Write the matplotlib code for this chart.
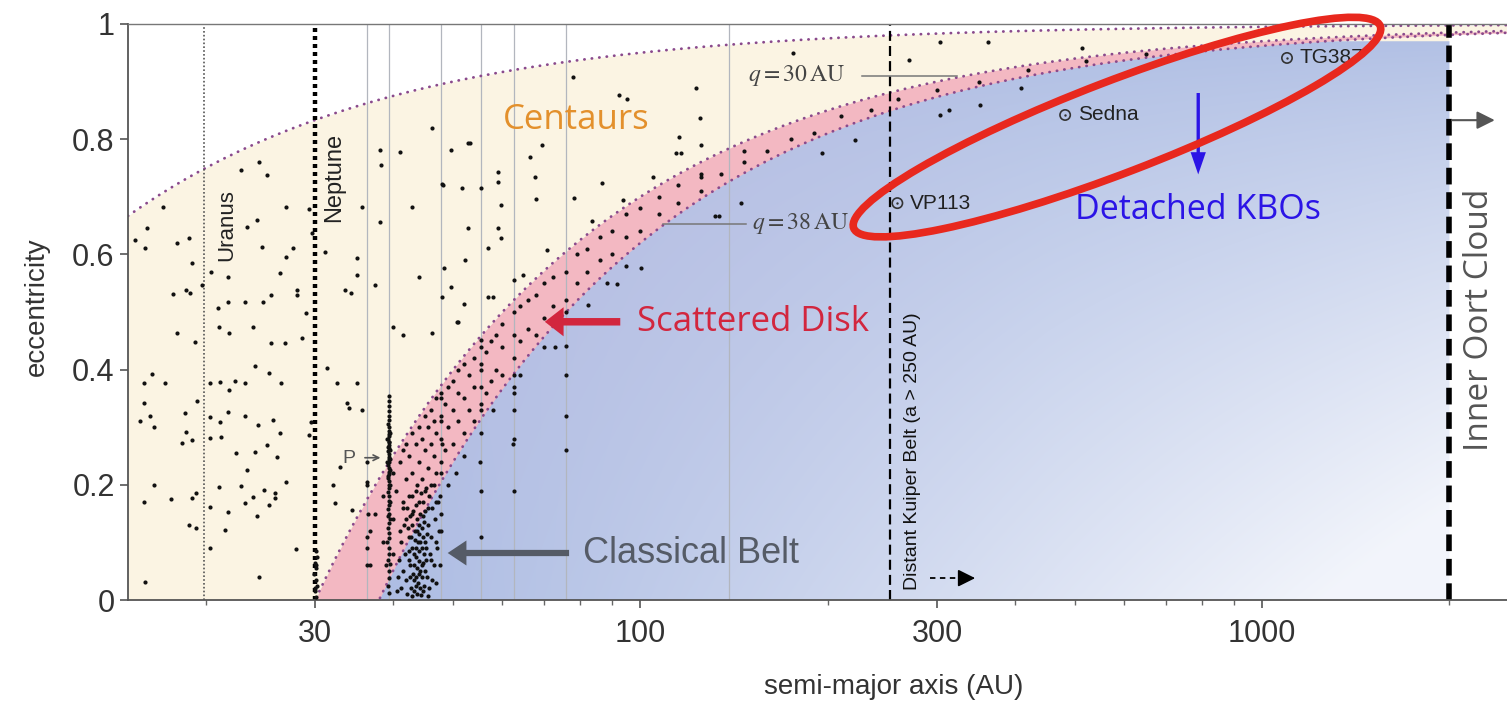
import numpy as np
import matplotlib
matplotlib.use("Agg")
import matplotlib.pyplot as plt
from matplotlib.patches import Ellipse, Polygon
from matplotlib.transforms import ScaledTranslation
from matplotlib.ticker import FixedLocator, FixedFormatter, NullFormatter

plt.rcParams['font.family'] = ['Liberation Sans', 'DejaVu Sans']
plt.rcParams['mathtext.fontset'] = 'stix'

# ---- axes / reference values ----
x_lim = (15, 2475)
x_ticks = [30, 100, 300, 1000]
x_ticklabels = ['30', '100', '300', '1000']
y_ticks = [0, 0.2, 0.4, 0.6, 0.8, 1]
y_ticklabels = ['0', '0.2', '0.4', '0.6', '0.8', '1']

q_centaur = 5      # AU, upper dotted curve
q_inner = 30       # AU, top of scattered disk band
q_outer = 38       # AU, bottom of scattered disk band
e_cap = 0.97

a_uranus = 19.9
a_neptune = 30
a_distant = 252
a_oort = 2000
resonances = [36.4, 39.4, 47.8, 55.4, 62.6, 75.9, 139]

detached_names = ['VP113', 'Sedna', 'TG387']
detached_a = [259, 482, 1096]
detached_e = [0.689, 0.842, 0.941]

# ---- objects (a [AU], e) ----
centaurs = [
    (15.9, 0.377), (16.4, 0.392), (15.7, 0.31), (16.3, 0.32), (16.5, 0.30), (17.2, 0.377),
    (15.9, 0.342), (16.5, 0.20), (17.6, 0.175), (15.9, 0.17), (18.3, 0.273), (18.5, 0.325),
    (18.6, 0.292), (19.0, 0.278), (18.8, 0.13), (19.3, 0.125), (19.0, 0.177), (16.0, 0.031),
    (19.3, 0.186), (19.4, 0.345), (20.3, 0.377), (21.1, 0.378), (21.8, 0.365), (22.3, 0.38),
    (23.1, 0.377), (24.0, 0.406), (25.3, 0.394), (26.4, 0.377), (20.3, 0.318), (21.1, 0.309),
    (21.7, 0.326), (23.1, 0.319), (24.3, 0.304), (25.7, 0.313), (26.3, 0.29), (20.3, 0.281),
    (21.2, 0.283), (22.4, 0.255), (24.0, 0.257), (25.1, 0.269), (26.0, 0.248), (23.3, 0.226),
    (21.0, 0.196), (22.8, 0.198), (23.8, 0.179), (24.8, 0.191), (25.9, 0.186), (26.9, 0.205),
    (20.3, 0.161), (21.7, 0.153), (23.1, 0.168), (24.2, 0.146), (25.3, 0.165), (25.9, 0.177),
    (21.5, 0.122), (20.3, 0.09), (27.9, 0.089), (24.4, 0.04), (29.5, 0.309), (29.3, 0.286),
    (32.1, 0.2), (32.3, 0.168), (31.4, 0.403), (32.5, 0.377), (33.8, 0.342), (35.7, 0.33),
    (34.0, 0.333), (35.0, 0.377), (34.4, 0.156), (32.9, 0.231), (36.4, 0.205),
    (15.4, 0.625), (16.0, 0.611), (16.1, 0.646), (17.1, 0.682), (18.0, 0.62), (18.8, 0.628),
    (19.0, 0.585), (17.7, 0.531), (18.6, 0.538), (18.9, 0.533), (19.7, 0.547), (18.0, 0.464),
    (19.2, 0.448), (20.4, 0.57), (20.9, 0.507), (21.0, 0.474), (21.7, 0.517), (21.7, 0.561),
    (21.8, 0.464), (22.8, 0.747), (23.3, 0.648), (24.2, 0.66), (24.4, 0.76), (24.6, 0.613),
    (23.1, 0.517), (24.7, 0.517), (25.5, 0.53), (25.1, 0.738), (26.3, 0.568), (26.9, 0.682),
    (26.9, 0.595), (27.6, 0.611), (28.0, 0.538), (28.1, 0.53), (29.0, 0.498), (29.3, 0.679),
    (28.6, 0.455), (26.8, 0.446), (25.5, 0.446), (23.8, 0.474), (29.7, 0.637), (31.1, 0.604),
    (33.5, 0.538), (34.2, 0.533), (35.0, 0.594), (35.0, 0.564), (35.7, 0.682), (37.4, 0.547),
    (38.1, 0.781), (38.3, 0.755), (38.1, 0.656), (41.1, 0.778), (43.0, 0.682), (44.0, 0.561),
    (46.3, 0.819), (48.1, 0.72), (48.4, 0.576), (49.7, 0.781), (51.6, 0.715), (52.8, 0.793),
    (52.8, 0.646), (52.3, 0.59), (55.4, 0.715), (56.8, 0.611), (56.8, 0.526), (51.0, 0.483),
    (55.4, 0.451), (46.3, 0.464), (47.9, 0.526), (41.6, 0.46), (40.0, 0.474),
    (53.3, 0.793), (47.9, 0.722), (59.1, 0.743), (59.1, 0.726), (66.4, 0.769), (69.4, 0.79),
    (67.6, 0.734), (67.9, 0.696), (59.6, 0.686), (59.1, 0.646), (59.6, 0.628), (70.7, 0.608),
    (49.6, 0.543), (58.0, 0.526), (62.6, 0.556), (64.7, 0.564), (52.1, 0.514), (50.8, 0.483),
    (86.9, 0.724), (78.3, 0.698), (83.7, 0.658), (93.8, 0.694), (114, 0.776), (125, 0.734),
    (125, 0.79), (78.0, 0.908), (122.8, 0.889), (176, 0.95), (124.6, 0.837), (115.3, 0.804),
    (92.5, 0.877), (95.1, 0.87), (104.9, 0.734), (116.2, 0.776),
]

trojans = [(30.1, 0.005), (30.0, 0.015), (30.2, 0.025), (30.1, 0.035), (29.9, 0.045),
           (30.1, 0.055), (30.0, 0.065), (30.2, 0.075), (30.1, 0.085), (30.0, 0.02), (30.1, 0.06)]

plutinos = [
    (39.4, 0.012), (39.3, 0.025), (39.5, 0.038), (39.4, 0.05), (39.6, 0.062), (39.3, 0.07),
    (39.4, 0.08), (39.5, 0.09), (39.2, 0.1), (39.4, 0.108), (39.5, 0.117), (39.3, 0.125),
    (39.4, 0.133), (39.6, 0.141), (39.4, 0.15), (39.3, 0.158), (39.5, 0.165), (39.4, 0.172),
    (39.5, 0.18), (39.3, 0.187), (39.4, 0.194), (39.6, 0.2), (39.4, 0.206), (39.3, 0.212),
    (39.5, 0.218), (39.4, 0.223), (39.5, 0.229), (39.3, 0.234), (39.4, 0.239), (39.6, 0.244),
    (39.4, 0.249), (39.5, 0.254), (39.3, 0.259), (39.4, 0.264), (39.5, 0.269), (39.4, 0.274),
    (39.3, 0.279), (39.5, 0.284), (39.4, 0.289), (39.4, 0.294), (39.5, 0.3), (39.3, 0.306),
    (39.4, 0.313), (39.5, 0.32), (39.4, 0.328), (39.4, 0.336), (39.5, 0.345), (39.4, 0.355),
    (39.3, 0.215), (39.5, 0.245), (39.3, 0.265), (39.6, 0.225), (39.6, 0.26), (39.2, 0.28),
    (39.6, 0.29), (39.2, 0.24), (39.5, 0.2), (39.3, 0.145), (39.6, 0.17), (39.5, 0.275),
]

classical = [
    (42.2, 0.01), (42.8, 0.02), (43.3, 0.015), (43.9, 0.03), (44.4, 0.008), (44.9, 0.025),
    (45.4, 0.04), (43.1, 0.045), (43.7, 0.055), (44.2, 0.05), (44.7, 0.065), (45.2, 0.07),
    (42.6, 0.06), (43.5, 0.075), (44.0, 0.085), (44.5, 0.09), (45.0, 0.1), (42.9, 0.09),
    (43.4, 0.105), (44.1, 0.115), (44.6, 0.125), (45.6, 0.13), (43.0, 0.13), (43.8, 0.14),
    (44.3, 0.15), (45.1, 0.155), (42.4, 0.11), (42.7, 0.145), (43.6, 0.165), (44.8, 0.17),
    (45.8, 0.18), (46.3, 0.16), (46.7, 0.14), (46.1, 0.11), (45.9, 0.08), (46.5, 0.06),
    (47.1, 0.09), (47.5, 0.12), (41.6, 0.05), (41.9, 0.08), (42.0, 0.035), (41.3, 0.02),
    (40.8, 0.04), (40.6, 0.015), (43.2, 0.035), (43.8, 0.01), (44.6, 0.04), (45.7, 0.02),
    (46.2, 0.035), (47.0, 0.03), (44.1, 0.068), (43.3, 0.06), (42.5, 0.085), (44.9, 0.08),
    (45.4, 0.115), (43.9, 0.1), (42.3, 0.125), (43.1, 0.155), (44.4, 0.185), (45.3, 0.195),
    (43.7, 0.2), (42.9, 0.18), (46.6, 0.2), (47.3, 0.17), (47.8, 0.15), (41.2, 0.1),
    (41.7, 0.13), (42.1, 0.16), (44.0, 0.13), (44.7, 0.145), (45.5, 0.16), (43.4, 0.12),
    (42.6, 0.04), (44.3, 0.02), (45.1, 0.05), (43.6, 0.09), (44.8, 0.11), (46.0, 0.07),
    (46.9, 0.1), (47.6, 0.06), (40.9, 0.07), (41.5, 0.16), (43.0, 0.0075), (45.6, 0.0075),
    (43.5, 0.025), (44.0, 0.045), (44.5, 0.06), (43.2, 0.08), (44.3, 0.1), (43.8, 0.12),
    (44.9, 0.135), (42.8, 0.11), (43.6, 0.04), (44.7, 0.015), (45.3, 0.09), (42.4, 0.07),
]

resonant = [
    (36.4, 0.06), (36.4, 0.11), (36.5, 0.15), (36.4, 0.2), (36.3, 0.24), (36.4, 0.09),
    (47.8, 0.12), (47.7, 0.18), (47.8, 0.22), (47.9, 0.27), (47.8, 0.31), (47.8, 0.35),
    (55.4, 0.11), (55.4, 0.19), (55.3, 0.24), (55.5, 0.29), (55.4, 0.34), (55.4, 0.4),
    (62.6, 0.19), (62.5, 0.27), (62.7, 0.28), (62.6, 0.33), (62.6, 0.37), (62.6, 0.39),
    (75.9, 0.26), (75.9, 0.32), (76.0, 0.39), (75.8, 0.5),
]

scattered = [
    (36.8, 0.06), (36.8, 0.12), (37.5, 0.15), (38.5, 0.10), (38.5, 0.18), (39.0, 0.06),
    (40.0, 0.08), (40.0, 0.14), (40.0, 0.22), (40.5, 0.19), (41.0, 0.12), (41.0, 0.24),
    (41.5, 0.17), (41.5, 0.26), (42.0, 0.14), (42.0, 0.21), (42.0, 0.27), (42.5, 0.18),
    (42.5, 0.25), (43.0, 0.15), (43.0, 0.22), (43.0, 0.29), (43.5, 0.19), (43.5, 0.27),
    (44.0, 0.17), (44.0, 0.24), (44.0, 0.30), (44.5, 0.21), (44.5, 0.28), (45.0, 0.19),
    (45.0, 0.26), (45.0, 0.32), (45.5, 0.23), (45.5, 0.30), (46.0, 0.20), (46.0, 0.27),
    (46.0, 0.33), (46.5, 0.25), (46.5, 0.31), (47.0, 0.22), (47.0, 0.29), (47.0, 0.35),
    (47.8, 0.24), (47.8, 0.28), (47.8, 0.32), (47.8, 0.36), (48.5, 0.26), (48.5, 0.34),
    (49.0, 0.30), (49.0, 0.37), (50.0, 0.27), (50.0, 0.33), (50.0, 0.38), (51.0, 0.31),
    (51.0, 0.36), (51.0, 0.40), (52.0, 0.29), (52.0, 0.35), (52.0, 0.41), (53.0, 0.33),
    (53.0, 0.39), (54.0, 0.31), (54.0, 0.37), (54.0, 0.42), (55.4, 0.33), (55.4, 0.37),
    (55.4, 0.41), (55.4, 0.44), (56.5, 0.36), (56.5, 0.43), (57.5, 0.38), (57.5, 0.45),
    (58.5, 0.40), (58.5, 0.46), (60.0, 0.39), (60.0, 0.44), (60.0, 0.48), (62.6, 0.42),
    (62.6, 0.46), (62.6, 0.50), (64.0, 0.45), (64.0, 0.51), (66.0, 0.47), (66.0, 0.52),
    (68.0, 0.46), (68.0, 0.53), (70.0, 0.49), (70.0, 0.55), (72.5, 0.51), (72.5, 0.56),
    (75.9, 0.52), (75.9, 0.57), (79.0, 0.55), (79.0, 0.60), (82.0, 0.57), (82.0, 0.61),
    (86.0, 0.59), (86.0, 0.63), (90.0, 0.60), (90.0, 0.64), (95.0, 0.63), (95.0, 0.67),
    (100, 0.64), (100, 0.68), (107, 0.67), (107, 0.70), (115, 0.69), (115, 0.72),
    (125, 0.71), (125, 0.74), (135, 0.74), (147, 0.76), (147, 0.78), (160, 0.78),
    (175, 0.80), (190, 0.81), (210, 0.84), (235, 0.85), (260, 0.87), (300, 0.885),
    (350, 0.90), (420, 0.92), (520, 0.935), (650, 0.948), (800, 0.957),
    (47.0, 0.17), (49.0, 0.20), (52.0, 0.25), (50.5, 0.22), (58.0, 0.33), (62.6, 0.36),
    (64.0, 0.39), (70.0, 0.44), (95.0, 0.58),
]

distant = [
    (100.3, 0.576), (91.7, 0.549), (88.3, 0.55), (132, 0.667), (73.0, 0.439), (75.9, 0.441),
    (82.4, 0.512), (133.7, 0.667), (144.9, 0.689), (270, 0.938), (303, 0.969), (362, 0.969),
    (303, 0.842), (314, 0.851), (352, 0.859), (196, 0.776), (221, 0.799), (513, 0.958),
    (410, 0.889),
]

populations = [centaurs, trojans, plutinos, classical, resonant, scattered, distant]

# ---- figure ----
fig = plt.figure(figsize=(15.07, 7.03), dpi=100)
ax = fig.add_axes([0.0849, 0.1465, 0.9151, 0.8194])
ax.set_xscale('log')

a_grid = np.geomspace(x_lim[0], x_lim[1], 800)
e_cen = 1 - q_centaur / a_grid
e_in = 1 - q_inner / a_grid
e_out = 1 - q_outer / a_grid

beige = '#fbf4e3'
inside = a_grid <= a_oort
ax.fill_between(a_grid[inside], 0, e_cen[inside], color=beige, lw=0, zorder=0.5)
ax.fill_between(a_grid[~inside], np.clip(e_in[~inside], 0, 1), e_cen[~inside],
                color=beige, lw=0, zorder=0.5)

# detached region with a diagonal gradient, clipped to q > 38 AU
a_blue = np.geomspace(q_outer, a_oort, 400)
top_blue = np.minimum(1 - q_outer / a_blue, e_cap)
verts = list(zip(a_blue, top_blue)) + [(a_oort, 0), (q_outer, 0)]
clip_poly = Polygon(verts, closed=True, transform=ax.transData)

ny, nx = 200, 400
yy, xx = np.mgrid[0:1:ny * 1j, 0:1:nx * 1j]
xr = np.clip((xx - 0.18) / 0.78, 0, 1)
t = np.clip(1.15 * xr ** 1.1 * (1 - yy) ** 0.8, 0, 1)
dark = np.array([0.68, 0.74, 0.89])
light = np.array([0.95, 0.96, 0.985])
lav = np.array([0.77, 0.74, 0.88])
rgb = dark * (1 - t[..., None]) + light * t[..., None]
w = (np.clip(1 - xr * 1.6, 0, 1) * yy)[..., None] * 0.6
rgb = rgb * (1 - w) + lav * w
im = ax.imshow(rgb, extent=(0, 1, 0, 1), transform=ax.transAxes, origin='lower',
               aspect='auto', zorder=0.6, interpolation='bilinear')
im.set_clip_path(clip_poly)

# scattered disk band
band = a_grid >= q_inner
ax.fill_between(a_grid[band], np.clip(e_out[band], 0, 1), e_in[band],
                color='#f3b8c2', lw=0, zorder=0.7)

# resonance lines
for a_r in resonances:
    ax.axvline(a_r, color='#b2b6be', lw=0.9, zorder=1)

# constant perihelion curves
dot = dict(color='#8a4a8c', lw=2.0, ls=(0, (0.1, 2.6)), dash_capstyle='round', zorder=2)
ax.plot(a_grid, e_cen, **dot)
ax.plot(a_grid[band], e_in[band], **dot)
sel = a_grid >= q_outer
ax.plot(a_grid[sel], e_out[sel], **dot)

# planets and boundaries
ax.axvline(a_uranus, color='#555', lw=1.2, ls=(0, (1, 1.3)), zorder=2.5)
ax.axvline(a_neptune, color='black', lw=3.2, ls=(0, (0.9, 0.9)), zorder=2.5)
ax.axvline(a_distant, color='black', lw=1.6, ls=(0, (4.5, 2.3)), zorder=2.5)
ax.axvline(a_oort, color='black', lw=4, ls=(0, (3, 1.4)), zorder=2.5)

# objects
for pop in populations:
    arr = np.array(pop)
    ax.scatter(arr[:, 0], arr[:, 1], s=9, color='#111', lw=0, zorder=3)

ax.scatter(detached_a, detached_e, s=55, facecolor='none', edgecolor='#333', lw=1.2, zorder=4)
ax.scatter(detached_a, detached_e, s=3, color='#333', lw=0, zorder=4)
for name, a_d, e_d in zip(detached_names, detached_a, detached_e):
    ax.annotate(name, (a_d, e_d), xytext=(9, 0), textcoords='offset points',
                va='center', ha='left', fontsize=15, color='#222', zorder=4)

# ---- region labels ----
ax.text(78.8, 0.833, 'Centaurs', fontsize=25, color='#e3902c', family='Open Sans',
        ha='center', va='center', zorder=4)
ax.text(151.5, 0.483, 'Scattered Disk', fontsize=25, color='#d2263e', family='Open Sans',
        ha='center', va='center', zorder=4)
ax.text(120.6, 0.0816, 'Classical Belt', fontsize=26, color='#555b66',
        ha='center', va='center', zorder=4)
ax.text(789, 0.677, 'Detached KBOs', fontsize=24.5, color='#2b14e6', family='Open Sans',
        ha='center', va='center', zorder=4)
ax.text(2232, 0.486, 'Inner Oort Cloud', fontsize=24, color='#555', family='Open Sans',
        rotation=90, ha='center', va='center', zorder=4)
ax.text(21.6, 0.651, 'Uranus', fontsize=16, color='#222', rotation=90,
        ha='center', va='center', zorder=4)
ax.text(32.2, 0.734, 'Neptune', fontsize=17, color='#222', rotation=90,
        ha='center', va='center', zorder=4)
ax.text(274, 0.259, 'Distant Kuiper Belt (a > 250 AU)', fontsize=14, color='#111',
        rotation=90, ha='center', va='center', zorder=4)

# perihelion labels with leader lines
ax.text(149, 0.91, r'$q = 30\,\mathrm{AU}$', fontsize=17, color='#444', ha='left', va='center', zorder=4)
ax.plot([227, 323], [0.91, 0.91], color='#777', lw=1.1, zorder=4)
ax.text(151, 0.653, r'$q = 38\,\mathrm{AU}$', fontsize=17, color='#444', ha='left', va='center', zorder=4)
ax.plot([108.7, 148], [0.653, 0.653], color='#777', lw=1.1, zorder=4)

ax.text(34.0, 0.245, 'P', fontsize=14, color='#555', ha='center', va='center', zorder=4)
ax.annotate('', xy=(38.6, 0.247), xytext=(35.7, 0.247),
            arrowprops=dict(arrowstyle='->', color='#555', lw=1.2), zorder=4)

# arrows
ax.annotate('', xy=(69.5, 0.483), xytext=(93.8, 0.483),
            arrowprops=dict(arrowstyle='simple,head_length=0.45,head_width=0.7,tail_width=0.18',
                            color='#d2263e', mutation_scale=30, lw=0), zorder=4)
ax.annotate('', xy=(48.5, 0.0816), xytext=(77.6, 0.0816),
            arrowprops=dict(arrowstyle='simple,head_length=0.45,head_width=0.6,tail_width=0.15',
                            color='#555b66', mutation_scale=30, lw=0), zorder=4)
ax.annotate('', xy=(789, 0.734), xytext=(789, 0.885),
            arrowprops=dict(arrowstyle='simple,head_length=0.8,head_width=0.55,tail_width=0.12',
                            color='#2b14e6', mutation_scale=20, lw=0), zorder=4)
ax.annotate('', xy=(2390, 0.833), xytext=(a_oort, 0.833),
            arrowprops=dict(arrowstyle='-|>,head_length=0.6,head_width=0.3', color='#555',
                            lw=1.5, mutation_scale=18), zorder=4, annotation_clip=False)
ax.plot([292, 330], [0.038, 0.038], color='black', lw=1.3, ls=(0, (3, 2.5)), zorder=4)
ax.annotate('', xy=(349, 0.038), xytext=(331, 0.038),
            arrowprops=dict(arrowstyle='-|>,head_length=0.7,head_width=0.35', color='black',
                            lw=1.2, mutation_scale=15), zorder=4)

# red highlight ellipse (drawn in inches around a data anchor)
ell_tr = fig.dpi_scale_trans + ScaledTranslation(584, 0.821, ax.transData)
ax.add_patch(Ellipse((0, 0), 5.64, 0.92, angle=21, fill=False, ec='#e8281e', lw=5.5,
                     transform=ell_tr, zorder=6, clip_on=False))

# ---- axes styling ----
ax.set_xlim(*x_lim)
ax.set_ylim(0, 1)
ax.xaxis.set_major_locator(FixedLocator(x_ticks))
ax.xaxis.set_major_formatter(FixedFormatter(x_ticklabels))
minor = [m * 10 ** k for k in (1, 2, 3) for m in range(2, 10)]
minor = [v for v in minor if v not in x_ticks and x_lim[0] < v < x_lim[1]]
ax.xaxis.set_minor_locator(FixedLocator(minor))
ax.xaxis.set_minor_formatter(NullFormatter())
ax.yaxis.set_major_locator(FixedLocator(y_ticks))
ax.yaxis.set_major_formatter(FixedFormatter(y_ticklabels))

ax.tick_params(which='major', direction='out', length=6, width=1.2, color='#555',
               labelsize=22, labelcolor='#333')
ax.tick_params(axis='x', which='major', pad=8)
ax.tick_params(which='minor', direction='out', length=3.5, width=1, color='#666')
for side in ('left', 'bottom'):
    ax.spines[side].set_color('#555')
    ax.spines[side].set_linewidth(1.3)
ax.spines['top'].set_color('#777')
ax.spines['top'].set_linewidth(1.0)
ax.spines['right'].set_visible(False)

ax.set_xlabel('semi-major axis (AU)', fontsize=20, color='#333', va='center')
ax.xaxis.set_label_coords(0.555, -0.151)
ax.set_ylabel('eccentricity', fontsize=20, color='#333', va='center')
ax.yaxis.set_label_coords(-0.066, 0.51)

fig.savefig('out.png', dpi=100)
